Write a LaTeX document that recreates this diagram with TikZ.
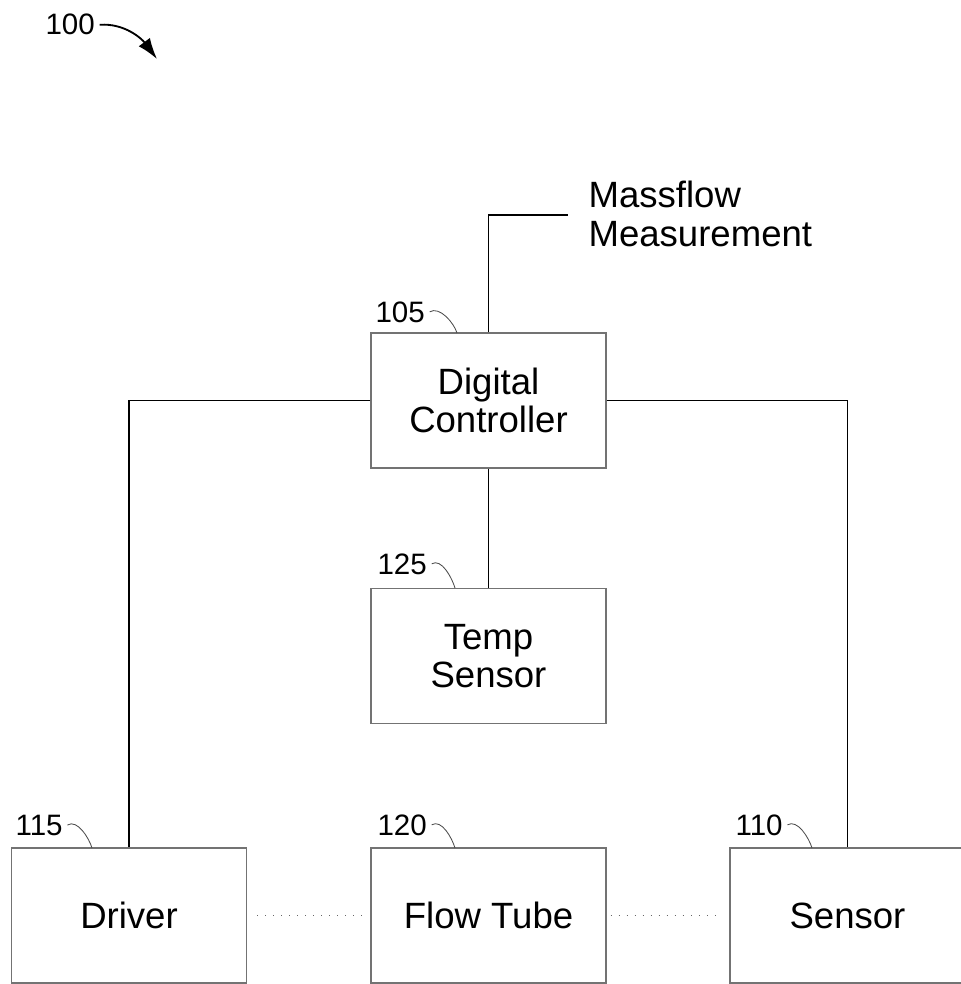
\documentclass[tikz,border=0pt]{standalone}
\usepackage{fontspec}
\setmainfont{Liberation Sans}
\usetikzlibrary{arrows.meta}

\begin{document}
\begin{tikzpicture}[x=0.025cm, y=-0.025cm, line width=0.8pt,
  block/.style={draw=black!55, minimum width=5.875cm, minimum height=3.375cm,
    align=center, inner sep=0pt, font=\fontsize{26}{27.5}\selectfont},
  tag/.style={anchor=base west, inner sep=0pt, font=\fontsize{21}{24}\selectfont},
  leader/.style={black!70, line width=0.6pt},
  link/.style={black, line width=1pt},
  couple/.style={black!60, line width=0.8pt, dash pattern=on 0.8pt off 4.9pt}]
  \useasboundingbox (0,0) rectangle (960,984);
  % blocks
  \node[block] (dc) at (488.5,400.5) {Digital\\Controller};
  \node[block] (temp) at (488.5,656) {Temp\\Sensor};
  \node[block] (driver) at (129,915.5) {Driver};
  \node[block] (tube) at (488.5,915.5) {Flow Tube};
  \node[block] (sensor) at (847.5,915.5) {Sensor};
  % output
  \coordinate (mf) at (568,215);
  \node[anchor=west, align=left, inner sep=0pt, font=\fontsize{26}{27.5}\selectfont]
    (mass) at (588,214) {Massflow\\Measurement};
  % connectors
  \draw[link] (dc.north) |- (mf);
  \draw[link] (dc.west) -| (driver.north);
  \draw[link] (dc.east) -| (sensor.north);
  \draw[link] (dc.south) -- (temp.north);
  \draw[couple, shorten <=0.25cm, shorten >=0.2cm] (driver.east) -- (tube.west);
  \draw[couple, shorten <=0.1cm, shorten >=0.35cm] (tube.east) -- (sensor.west);
  % reference numerals
  \node[tag] (n100) at (45,35) {100};
  \node[tag] (n105) at (375,322) {105};
  \node[tag] (n125) at (377,574) {125};
  \node[tag] (n115) at (15,835) {115};
  \node[tag] (n120) at (377,835) {120};
  \node[tag] (n110) at (735,835) {110};
  \coordinate (t100) at (157,59);
  \coordinate (t105) at (457,333);
  \coordinate (t125) at (455,588);
  \coordinate (t115) at (92,848);
  \coordinate (t120) at (455,848);
  \coordinate (t110) at (812,848);
  \draw[link, line width=1.3pt, -{Latex[length=15pt,width=10pt]}] ([xshift=3pt]n100.east)
    .. controls +(25,-2) and +(-15,-20) .. (t100);
  \foreach \n in {105,125,115,120,110}
    \draw[leader] ([xshift=3pt]n\n.east) .. controls +(10,-6) and +(-3,-10) .. (t\n);
\end{tikzpicture}
\end{document}
